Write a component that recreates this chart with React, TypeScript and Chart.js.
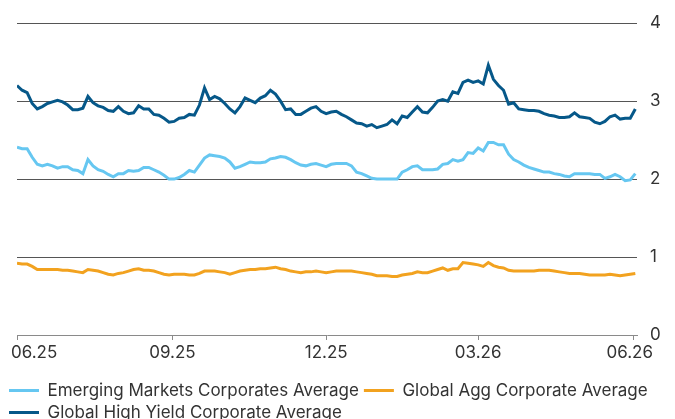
import { useEffect, useRef } from 'react';
import { Chart, registerables } from 'chart.js';

Chart.register(...registerables);

// ---- data ----
const stepDays = 3; // one observation every 3 days, starting 06.25
const tickDays = [0, 92, 183, 273, 365];
const tickLabels = ['06.25', '09.25', '12.25', '03.26', '06.26'];
const yTicks = [0, 1, 2, 3, 4];

const seriesNames = [
  'Emerging Markets Corporates Average',
  'Global Agg Corporate Average',
  'Global High Yield Corporate Average',
];

const emValues = [
  2.41, 2.39, 2.39, 2.28, 2.19, 2.17, 2.19, 2.17, 2.14, 2.16,
  2.16, 2.12, 2.11, 2.07, 2.25, 2.17, 2.12, 2.10, 2.06, 2.03,
  2.07, 2.07, 2.11, 2.10, 2.11, 2.15, 2.15, 2.12, 2.09, 2.05,
  2.00, 2.00, 2.02, 2.06, 2.11, 2.09, 2.18, 2.27, 2.31, 2.30,
  2.29, 2.27, 2.22, 2.14, 2.16, 2.19, 2.22, 2.21, 2.21, 2.22,
  2.26, 2.27, 2.29, 2.28, 2.25, 2.21, 2.18, 2.17, 2.19, 2.20,
  2.18, 2.16, 2.19, 2.20, 2.20, 2.20, 2.17, 2.09, 2.07, 2.04,
  2.01, 2.00, 2.00, 2.00, 2.00, 2.00, 2.09, 2.12, 2.16, 2.17,
  2.12, 2.12, 2.12, 2.13, 2.19, 2.20, 2.25, 2.23, 2.25, 2.34,
  2.33, 2.40, 2.36, 2.47, 2.47, 2.44, 2.44, 2.32, 2.25, 2.22,
  2.18, 2.15, 2.13, 2.11, 2.09, 2.09, 2.07, 2.06, 2.04, 2.03,
  2.07, 2.07, 2.07, 2.07, 2.06, 2.06, 2.01, 2.03, 2.06, 2.03,
  1.98, 1.99, 2.07,
];

const aggValues = [
  0.92, 0.91, 0.91, 0.88, 0.84, 0.84, 0.84, 0.84, 0.84, 0.83,
  0.83, 0.82, 0.81, 0.80, 0.84, 0.83, 0.82, 0.80, 0.78, 0.77,
  0.79, 0.80, 0.82, 0.84, 0.85, 0.83, 0.83, 0.82, 0.80, 0.78,
  0.77, 0.78, 0.78, 0.78, 0.77, 0.77, 0.79, 0.82, 0.82, 0.82,
  0.81, 0.80, 0.78, 0.80, 0.82, 0.83, 0.84, 0.84, 0.85, 0.85,
  0.86, 0.87, 0.85, 0.84, 0.82, 0.81, 0.80, 0.81, 0.81, 0.82,
  0.81, 0.80, 0.81, 0.82, 0.82, 0.82, 0.82, 0.81, 0.80, 0.79,
  0.78, 0.76, 0.76, 0.76, 0.75, 0.75, 0.77, 0.78, 0.79, 0.81,
  0.80, 0.80, 0.82, 0.84, 0.86, 0.83, 0.85, 0.85, 0.93, 0.92,
  0.91, 0.90, 0.88, 0.93, 0.89, 0.87, 0.86, 0.83, 0.82, 0.82,
  0.82, 0.82, 0.82, 0.83, 0.83, 0.83, 0.82, 0.81, 0.80, 0.79,
  0.79, 0.79, 0.78, 0.77, 0.77, 0.77, 0.77, 0.78, 0.77, 0.76,
  0.77, 0.78, 0.79,
];

const hyValues = [
  3.20, 3.14, 3.11, 2.97, 2.90, 2.93, 2.97, 2.99, 3.01, 2.99,
  2.95, 2.89, 2.89, 2.91, 3.06, 2.98, 2.94, 2.92, 2.88, 2.87,
  2.93, 2.87, 2.84, 2.85, 2.94, 2.90, 2.90, 2.83, 2.82, 2.78,
  2.73, 2.74, 2.78, 2.79, 2.83, 2.82, 2.95, 3.17, 3.02, 3.06,
  3.03, 2.97, 2.90, 2.85, 2.93, 3.04, 3.01, 2.98, 3.04, 3.07,
  3.14, 3.09, 3.00, 2.89, 2.90, 2.83, 2.83, 2.87, 2.91, 2.93,
  2.87, 2.84, 2.86, 2.87, 2.83, 2.80, 2.76, 2.72, 2.71, 2.68,
  2.70, 2.66, 2.68, 2.70, 2.76, 2.71, 2.81, 2.79, 2.86, 2.93,
  2.86, 2.85, 2.92, 3.00, 3.02, 3.00, 3.12, 3.10, 3.24, 3.27,
  3.24, 3.26, 3.22, 3.46, 3.28, 3.20, 3.14, 2.96, 2.98, 2.90,
  2.89, 2.88, 2.88, 2.87, 2.84, 2.82, 2.81, 2.79, 2.79, 2.80,
  2.85, 2.80, 2.79, 2.78, 2.73, 2.71, 2.74, 2.80, 2.82, 2.77,
  2.78, 2.78, 2.90,
];

// ---- styles ----
const FONT = 'Inter, "Noto Sans", "DejaVu Sans", sans-serif';
const FONT_SIZE = 17;
const EM_COLOR = '#66c7f1';
const AGG_COLOR = '#f2a21f';
const HY_COLOR = '#065889';
const TEXT_COLOR = '#333333';
const GRID_COLOR = '#555555';
const AXIS_COLOR = '#8a8a8a';

const toPoints = (vals: number[]) => vals.map((v, i) => ({ x: i * stepDays, y: v }));

// keep the edge tick labels inside the visible frame (like the original renderer)
const edgeLabelPlugin = {
  id: 'edgeLabelClamp',
  beforeDraw(chart: any) {
    const sx = chart.scales?.x;
    if (!sx || typeof sx.getLabelItems !== 'function') return;
    const items = sx.getLabelItems();
    const ctx = chart.ctx;
    const minX = 11;
    const maxX = 653;
    items.forEach((item: any) => {
      ctx.save();
      ctx.font = item.font.string;
      const w = ctx.measureText(String(item.label)).width;
      ctx.restore();
      const t = item.options.translation;
      let x = t[0];
      if (x - w / 2 < minX) x = minX + w / 2;
      if (x + w / 2 > maxX) x = maxX - w / 2;
      item.options.translation = [x, t[1]];
    });
  },
};

function LineChart() {
  const ref = useRef<HTMLCanvasElement | null>(null);

  useEffect(() => {
    if (!ref.current) return;
    const mk = (i: number, vals: number[], color: string) => ({
      label: seriesNames[i],
      data: toPoints(vals),
      borderColor: color,
      backgroundColor: color,
      borderWidth: 3,
      pointRadius: 0,
      tension: 0,
      fill: false,
    });
    const chart = new Chart(ref.current, {
      type: 'line',
      data: {
        datasets: [
          mk(0, emValues, EM_COLOR),
          mk(1, aggValues, AGG_COLOR),
          mk(2, hyValues, HY_COLOR),
        ],
      },
      options: {
        responsive: false,
        animation: false,
        devicePixelRatio: 1,
        layout: { padding: { left: 4, top: 22, right: 0, bottom: 0 } },
        scales: {
          x: {
            type: 'linear',
            min: 0,
            max: 367,
            afterBuildTicks: (s: any) => {
              s.ticks = tickDays.map((v) => ({ value: v }));
            },
            afterFit: (s: any) => {
              s.paddingLeft = 17;
              s.height = 42;
            },
            ticks: {
              autoSkip: false,
              maxRotation: 0,
              padding: 3,
              color: TEXT_COLOR,
              font: { family: FONT, size: FONT_SIZE },
              callback: (v: any) => {
                const k = tickDays.indexOf(Number(v));
                return k >= 0 ? tickLabels[k] : '';
              },
            },
            grid: {
              drawOnChartArea: false,
              drawTicks: true,
              tickLength: 5,
              color: AXIS_COLOR,
            },
            border: { display: true, color: AXIS_COLOR, width: 1 },
          },
          y: {
            position: 'right',
            min: 0,
            max: 4,
            afterBuildTicks: (s: any) => {
              s.ticks = yTicks.map((v) => ({ value: v }));
            },
            afterFit: (s: any) => {
              s.width = 38;
            },
            ticks: {
              padding: 13,
              color: TEXT_COLOR,
              font: { family: FONT, size: FONT_SIZE },
            },
            grid: {
              drawTicks: false,
              lineWidth: 1,
              color: (c: any) => (c.tick && c.tick.value === 0 ? 'rgba(0,0,0,0)' : GRID_COLOR),
            },
            border: { display: false },
          },
        },
        plugins: {
          tooltip: { enabled: false },
          legend: {
            position: 'bottom',
            align: 'start',
            labels: {
              boxWidth: 30,
              boxHeight: 0,
              padding: 5,
              color: TEXT_COLOR,
              font: { family: FONT, size: FONT_SIZE },
            },
          },
        },
      },
      plugins: [edgeLabelPlugin],
    } as any);
    return () => chart.destroy();
  }, []);

  return (
    <canvas
      ref={ref}
      width={675}
      height={431}
      style={{ display: 'block', width: 675, height: 431 }}
    />
  );
}

export default function App() {
  return (
    <div
      style={{
        position: 'absolute',
        left: 0,
        top: 0,
        width: 675,
        height: 419,
        overflow: 'hidden',
        background: '#ffffff',
      }}
    >
      <LineChart />
    </div>
  );
}
